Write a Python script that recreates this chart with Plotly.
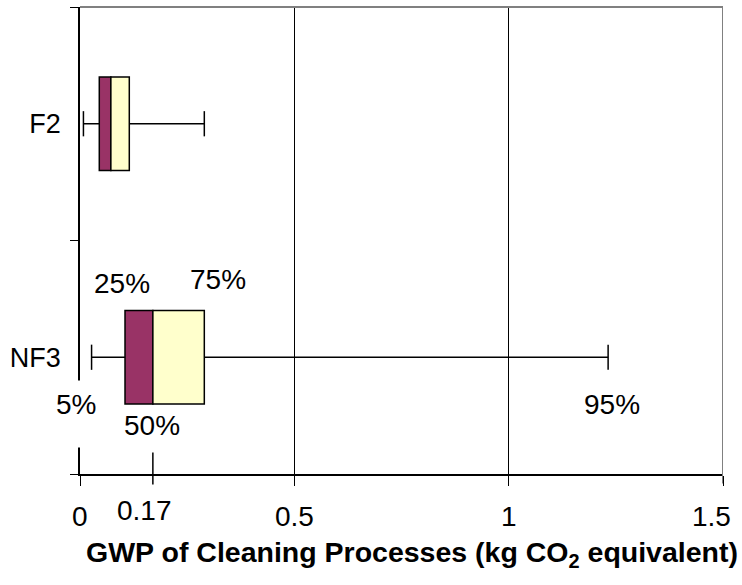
import plotly.graph_objects as go

# Percentile summary of the cleaning-process GWP (kg CO2 equivalent)
gases = ["NF3", "F2"]
p05 = [0.027, 0.008]
p25 = [0.105, 0.045]
p50 = [0.17, 0.072]
p75 = [0.29, 0.115]
p95 = [1.232, 0.29]

x_ticks = [0, 0.5, 1, 1.5]
x_tick_text = ["0", "0.5", "1", "1.5"]
marker_value = 0.17
marker_text = "0.17"

FONT = "Liberation Sans, Arial, Helvetica, sans-serif"
PURPLE = "#993366"
CREAM = "#FFFFCC"

W, H = 742, 585
M_L, M_R, M_T, M_B = 80, 19.3, 7, 110.5
plot_h = H - M_T - M_B


def paper_y(px):
    """Convert a page pixel row into paper y coordinates."""
    return (H - M_B - px) / plot_h


fig = go.Figure()

# lower half of each box: 25th percentile to median
fig.add_trace(go.Bar(
    y=gases, x=[m - q for m, q in zip(p50, p25)], base=p25,
    orientation="h", width=0.4,
    marker=dict(color=PURPLE, line=dict(color="black", width=1.5)),
    showlegend=False, hoverinfo="skip",
))
# upper half of each box: median to 75th percentile
fig.add_trace(go.Bar(
    y=gases, x=[q - m for q, m in zip(p75, p50)], base=p50,
    orientation="h", width=0.4,
    marker=dict(color=CREAM, line=dict(color="black", width=1.5)),
    showlegend=False, hoverinfo="skip",
))

# whiskers out to the 5th and 95th percentiles
wx, wy = [], []
for g, lo, q1, q3, hi in zip(gases, p05, p25, p75, p95):
    wx += [lo, q1, None, q3, hi, None]
    wy += [g, g, None, g, g, None]
fig.add_trace(go.Scatter(
    x=wx, y=wy, mode="lines", line=dict(color="black", width=1.5),
    showlegend=False, hoverinfo="skip", cliponaxis=False,
))
fig.add_trace(go.Scatter(
    x=p05 + p95, y=gases + gases, mode="markers",
    marker=dict(symbol="line-ns", size=18, line=dict(color="black", width=1.5)),
    showlegend=False, hoverinfo="skip", cliponaxis=False,
))

annotations = []
txt = dict(family=FONT, size=28, color="black")

# x tick labels
for i, (v, t) in enumerate(zip(x_ticks, x_tick_text)):
    last = i == len(x_ticks) - 1
    annotations.append(dict(
        x=v, y=paper_y(517), xref="x", yref="paper", text=t, showarrow=False,
        xanchor="right" if last else "center", xshift=10 if last else 0,
        yanchor="middle", font=txt,
    ))
annotations.append(dict(
    x=marker_value, y=paper_y(511), xref="x", yref="paper", text=marker_text,
    showarrow=False, xanchor="center", xshift=-8, yanchor="middle", font=txt,
))

# percentile labels around the NF3 box
nf3 = gases.index("NF3")
pct_labels = [
    ("25%", p25[nf3], -3, 283.5),
    ("50%", p50[nf3], -1, 426),
    ("75%", p75[nf3], 14, 279.5),
    ("95%", p95[nf3], 4, 405),
]
for t, v, dx, row in pct_labels:
    annotations.append(dict(
        x=v, y=paper_y(row), xref="x", yref="paper", text=t, showarrow=False,
        xanchor="center", yanchor="middle", xshift=dx, font=txt,
    ))

# the 5% label sits on a white box that interrupts the value axis
annotations.append(dict(
    x=p05[nf3], y=paper_y(380), xref="x", yref="paper", text="5%",
    showarrow=False, xanchor="center", yanchor="top", xshift=-16,
    height=50, valign="top", borderpad=8, bgcolor="white", font=txt,
))

# axis title
annotations.append(dict(
    x=(412 - M_L) / (W - M_L - M_R), y=paper_y(555), xref="paper", yref="paper",
    text="<b>GWP of Cleaning Processes (kg CO<sub>2</sub> equivalent)</b>",
    showarrow=False, xanchor="center", yanchor="middle",
    font=dict(family=FONT, size=28.5, color="black"),
))

shapes = [
    # top and right frame lines
    dict(type="line", xref="paper", yref="paper", x0=0, x1=1, y0=1, y1=1,
         line=dict(color="#808080", width=2), layer="above"),
    dict(type="line", xref="x", yref="paper", x0=1.5, x1=1.5, y0=paper_y(484), y1=1,
         line=dict(color="#808080", width=2), layer="above"),
    # extra tick marking the NF3 median
    dict(type="line", xref="x", yref="paper", x0=marker_value, x1=marker_value,
         y0=paper_y(485), y1=paper_y(453), line=dict(color="black", width=1.5),
         layer="above"),
]

fig.update_layout(
    width=W, height=H,
    margin=dict(l=M_L, r=M_R, t=M_T, b=M_B, pad=0),
    paper_bgcolor="white", plot_bgcolor="white",
    barmode="overlay",
    font=dict(family=FONT, color="black"),
    xaxis=dict(
        range=[0, 1.5], tickvals=x_ticks, showticklabels=False,
        ticks="outside", ticklen=10, tickcolor="black", tickwidth=1,
        showgrid=True, gridcolor="black", gridwidth=1,
        showline=True, linecolor="black", linewidth=1.5,
        zeroline=False, fixedrange=True,
    ),
    yaxis=dict(
        type="category", categoryorder="array", categoryarray=gases,
        range=[-0.5, 1.5], tickson="boundaries",
        ticks="outside", ticklen=8, tickcolor="black", tickwidth=1,
        showline=True, linecolor="black", linewidth=1.5,
        showgrid=False, zeroline=False,
        tickfont=dict(family=FONT, size=27, color="black"),
        ticklabelstandoff=12,
    ),
    annotations=annotations,
    shapes=shapes,
)

fig.write_html("out.html")
